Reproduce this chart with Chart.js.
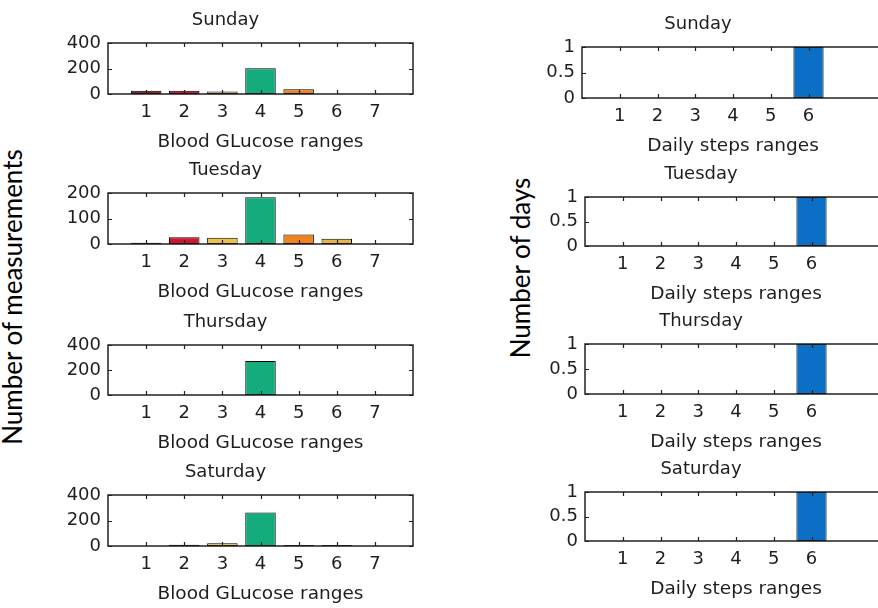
<!DOCTYPE html>
<html><head><meta charset="utf-8">
<script src="https://cdn.jsdelivr.net/npm/chart.js@4.4.1/dist/chart.umd.min.js"></script>
<style>
html,body{margin:0;padding:0;background:#fff;overflow:hidden;width:878px;height:608px;position:relative}
canvas{position:absolute}
.ylab{position:absolute;font-family:Lato,'Open Sans',sans-serif;font-size:26px;color:#000;white-space:nowrap;transform:translate(-50%,-50%) rotate(-90deg)}
</style></head><body>
<div class="ylab" style="left:12px;top:297px">Number of measurements</div>
<div class="ylab" style="left:520px;top:268px">Number of days</div>
<script>
// ---- data ----
const days = ['Sunday', 'Tuesday', 'Thursday', 'Saturday'];
const glucoseRanges = [1, 2, 3, 4, 5, 6, 7];
const stepsRanges = [1, 2, 3, 4, 5, 6];
const glucoseSunday   = [26, 26, 20, 202, 38, 0, 0];
const glucoseTuesday  = [5, 26, 25, 183, 37, 21, 0];
const glucoseThursday = [0, 0, 0, 272, 0, 0, 0];
const glucoseSaturday = [0, 10, 22, 262, 8, 8, 0];
const stepsSunday   = [0, 0, 0, 0, 0, 1];
const stepsTuesday  = [0, 0, 0, 0, 0, 1];
const stepsThursday = [0, 0, 0, 0, 0, 1];
const stepsSaturday = [0, 0, 0, 0, 0, 1];
const glucoseYTicksSunday   = [0, 200, 400];
const glucoseYTicksTuesday  = [0, 100, 200];
const glucoseYTicksThursday = [0, 200, 400];
const glucoseYTicksSaturday = [0, 200, 400];
const stepsYTicks = [0, 0.5, 1];
const glucoseXLabel = 'Blood GLucose ranges';
const stepsXLabel = 'Daily steps ranges';

// ---- styles ----
const glucoseColors = ['#8C1D2C', '#CE1631', '#EAC24A', '#14AC7C', '#F2821F', '#ECB445', '#B22222'];
const stepsColor = '#0B6FC6';
const FONT = "'DejaVu Sans', 'Liberation Sans', sans-serif";
const TXT = '#1e1e1e';

const boxPlugin = {
  id: 'matlabBox',
  afterDatasetsDraw(chart) {
    const {ctx, chartArea: a, scales: {x, y}} = chart;
    ctx.save();
    ctx.strokeStyle = '#202020';
    ctx.lineWidth = 1.5;
    ctx.strokeRect(a.left, a.top, a.right - a.left, a.bottom - a.top);
    ctx.lineWidth = 1.2;
    ctx.beginPath();
    const L = 4;
    x.ticks.forEach(t => {
      const px = Math.round(x.getPixelForValue(t.value)) + 0.5;
      ctx.moveTo(px, a.bottom); ctx.lineTo(px, a.bottom - L);
      ctx.moveTo(px, a.top); ctx.lineTo(px, a.top + L);
    });
    y.ticks.forEach(t => {
      const py = Math.round(y.getPixelForValue(t.value)) + 0.5;
      ctx.moveTo(a.left, py); ctx.lineTo(a.left + L, py);
      ctx.moveTo(a.right, py); ctx.lineTo(a.right - L, py);
    });
    ctx.stroke();
    ctx.restore();
  }
};

function makePlot(p) {
  const YW = 70, TOPH = 46, XH = 62;
  const cl = p.boxLeft - YW, ct = p.boxTop - TOPH;
  const w = Math.round(p.boxRight + p.padR - cl);
  const h = Math.round(p.boxBottom + XH - ct);
  const c = document.createElement('canvas');
  c.width = w; c.height = h;
  c.style.left = cl + 'px'; c.style.top = ct + 'px';
  c.style.width = w + 'px'; c.style.height = h + 'px';
  document.body.appendChild(c);
  new Chart(c, {
    type: 'bar',
    data: {
      datasets: [{
        data: p.cats.map((cat, i) => ({x: cat, y: p.values[i]})),
        backgroundColor: p.colors,
        borderColor: '#000',
        borderWidth: 1,
        borderSkipped: false,
        barPercentage: 0.8,
        categoryPercentage: 1
      }]
    },
    options: {
      responsive: false,
      animation: false,
      devicePixelRatio: 1,
      layout: {padding: {top: 0, left: 0, bottom: 0, right: p.padR}},
      plugins: {
        legend: {display: false},
        tooltip: {enabled: false},
        title: {
          display: true, text: p.title, color: TXT,
          font: {family: FONT, size: 18, weight: 'normal', lineHeight: 1.2},
          padding: {top: 12.2, bottom: 12.2}
        }
      },
      scales: {
        x: {
          type: 'linear', min: 0, max: 8, offset: false,
          afterBuildTicks: s => { s.ticks = p.xTicks.map(v => ({value: v})); },
          afterFit: s => { s.height = XH; },
          grid: {display: false, drawTicks: false, offset: false},
          border: {display: false},
          ticks: {color: TXT, font: {family: FONT, size: 18}, padding: 8, autoSkip: false, maxRotation: 0,
                  callback: v => String(v)},
          title: {display: true, text: p.xLabel, color: TXT,
                  font: {family: FONT, size: 18.5, lineHeight: 1.2}, padding: {top: 0, bottom: 3}}
        },
        y: {
          min: 0, max: p.yTicks[p.yTicks.length - 1],
          afterBuildTicks: s => { s.ticks = p.yTicks.map(v => ({value: v})); },
          afterFit: s => { s.width = YW; },
          grid: {display: false, drawTicks: false},
          border: {display: false},
          ticks: {color: TXT, font: {family: FONT, size: 18}, padding: 7, autoSkip: false,
                  callback: v => String(v)}
        }
      }
    },
    plugins: [boxPlugin]
  });
}

const glucoseData = [glucoseSunday, glucoseTuesday, glucoseThursday, glucoseSaturday];
const glucoseYT = [glucoseYTicksSunday, glucoseYTicksTuesday, glucoseYTicksThursday, glucoseYTicksSaturday];
const stepsData = [stepsSunday, stepsTuesday, stepsThursday, stepsSaturday];

const leftBoxes = [[43, 94], [193, 244], [345, 395], [495, 546]];
const rightBoxes = [[47, 98], [197, 246], [344, 394], [492, 541]];
const rightLefts = [582, 585, 585, 585];

days.forEach((d, i) => {
  makePlot({
    title: d, cats: glucoseRanges, values: glucoseData[i], colors: glucoseColors,
    xTicks: glucoseRanges, yTicks: glucoseYT[i], xLabel: glucoseXLabel,
    boxLeft: 108, boxRight: 413, boxTop: leftBoxes[i][0], boxBottom: leftBoxes[i][1], padR: 20
  });
  makePlot({
    title: d, cats: stepsRanges, values: stepsData[i], colors: stepsRanges.map(() => stepsColor),
    xTicks: stepsRanges, yTicks: stepsYTicks, xLabel: stepsXLabel,
    boxLeft: rightLefts[i], boxRight: rightLefts[i] + 302, boxTop: rightBoxes[i][0], boxBottom: rightBoxes[i][1], padR: 10
  });
});
</script>
</body></html>
